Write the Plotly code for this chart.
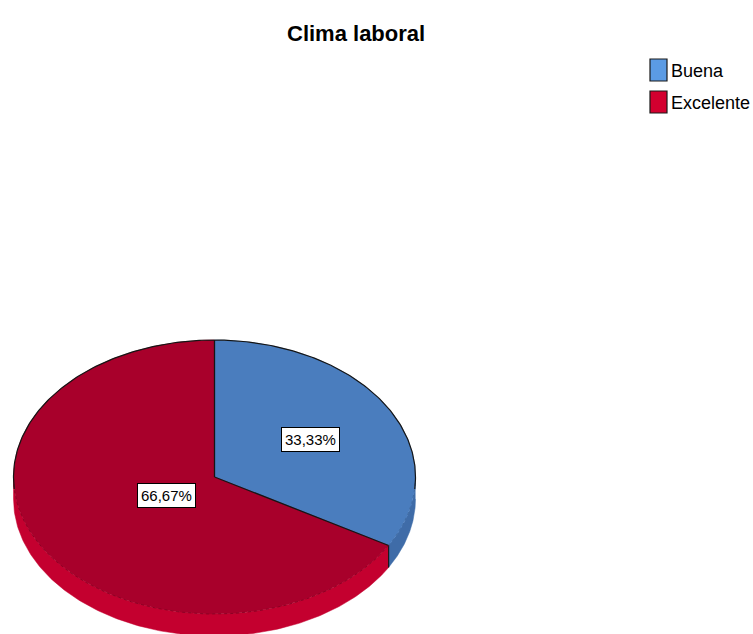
import numpy as np
import plotly.graph_objects as go

# Chart data
title_text = "Clima laboral"
categories = ["Buena", "Excelente"]
percentages = [33.33, 66.67]

# Styling
top_colors = ["#4A7DBE", "#A8002B"]
side_colors = ["#3F6CA8", "#C4002F"]
legend_colors = ["#5B9BE4", "#D3002F"]
FONT = "Liberation Sans, Arial, sans-serif"

W, H = 753, 634
cx, cy = 214.5, 477.0      # centre of the tilted pie's top face
rx, ry = 201.0, 137.0      # ellipse radii of the top face
depth = 22.0               # thickness of the pie


def pt(theta_deg, k=1.0, dy=0.0):
    """Point on the (tilted) pie top, angle measured clockwise from 12 o'clock."""
    t = np.radians(theta_deg)
    return cx + k * rx * np.sin(t), cy - k * ry * np.cos(t) + dy


def shade(hex_color, f):
    h = hex_color.lstrip("#")
    r, g, b = (int(h[i:i + 2], 16) for i in (0, 2, 4))
    return "rgb({},{},{})".format(min(255, int(r * f)), min(255, int(g * f)), min(255, int(b * f)))


total = sum(percentages)
bounds = [0.0]
for v in percentages:
    bounds.append(bounds[-1] + 360.0 * v / total)

fig = go.Figure()

# Visible side band of each slice (front half, 90..270 degrees)
for i in range(len(categories)):
    a0, a1 = max(bounds[i], 90.0), min(bounds[i + 1], 270.0)
    if a1 <= a0:
        continue
    ang = np.linspace(a0, a1, 200)
    xs_top, ys_top = pt(ang)
    xs_bot, ys_bot = pt(ang[::-1], dy=depth)
    fig.add_trace(go.Scatter(
        x=np.concatenate([xs_top, xs_bot]), y=np.concatenate([ys_top, ys_bot]),
        mode="lines", fill="toself", fillcolor=side_colors[i],
        line=dict(color=side_colors[i], width=0.5), hoverinfo="skip", showlegend=False))

# Side edge where slices meet on the front
for b in bounds[1:-1]:
    if 90.0 < b < 270.0:
        x0, y0 = pt(b)
        x1, y1 = pt(b, dy=depth)
        fig.add_trace(go.Scatter(x=[x0, x1], y=[y0, y1], mode="lines",
                                 line=dict(color="#1a1a1a", width=1.2),
                                 hoverinfo="skip", showlegend=False))

# Top faces of the slices
for i in range(len(categories)):
    ang = np.linspace(bounds[i], bounds[i + 1], 240)
    xs, ys = pt(ang)
    fig.add_trace(go.Scatter(
        x=np.concatenate([[cx], xs, [cx]]), y=np.concatenate([[cy], ys, [cy]]),
        mode="lines", fill="toself", fillcolor=top_colors[i],
        line=dict(color=top_colors[i], width=0.5), hoverinfo="skip", showlegend=False))
    # faint rim along the front edge of the top face
    fa0, fa1 = max(bounds[i], 90.0), min(bounds[i + 1], 270.0)
    if fa1 > fa0:
        fa = np.linspace(fa0, fa1, 120)
        fx, fy = pt(fa)
        fig.add_trace(go.Scatter(x=fx, y=fy, mode="lines",
                                 line=dict(color=shade(top_colors[i], 0.85), width=1, dash="dot"),
                                 hoverinfo="skip", showlegend=False))

# Dark outline on the back rim
back = np.linspace(-95.0, 95.0, 240)
bx, by = pt(back)
fig.add_trace(go.Scatter(x=bx, y=by, mode="lines", line=dict(color="#151515", width=1.2),
                         hoverinfo="skip", showlegend=False))

# Slice separators on the top face
for b in bounds[:-1]:
    x1, y1 = pt(b)
    fig.add_trace(go.Scatter(x=[cx, x1], y=[cy, y1], mode="lines",
                             line=dict(color="#151515", width=1.3),
                             hoverinfo="skip", showlegend=False))

annotations = []
shapes = []

# Percentage labels at the slice centroids
for i, v in enumerate(percentages):
    half = np.radians((bounds[i + 1] - bounds[i]) / 2.0)
    k = 2.0 * np.sin(half) / (3.0 * half)
    lx, ly = pt((bounds[i] + bounds[i + 1]) / 2.0, k)
    annotations.append(dict(
        x=lx, y=ly, xref="x", yref="y", showarrow=False,
        text=f"{v:.2f}%".replace(".", ","),
        font=dict(family=FONT, size=15, color="#000000"),
        bgcolor="#FFFFFF", bordercolor="#000000", borderwidth=1, borderpad=3))

# Title
annotations.append(dict(x=356, y=33, xref="x", yref="y", showarrow=False,
                        text=f"<b>{title_text}</b>",
                        font=dict(family=FONT, size=22, color="#000000")))

# Legend
for i, name in enumerate(categories):
    y0 = 59 + i * 32
    shapes.append(dict(type="rect", xref="x", yref="y", x0=650, x1=667, y0=y0, y1=y0 + 22,
                       fillcolor=legend_colors[i], line=dict(color="#1a1a1a", width=1.2)))
    annotations.append(dict(x=669, y=y0 + 12, xref="x", yref="y", showarrow=False,
                            xanchor="left", yanchor="middle", text=name,
                            font=dict(family=FONT, size=18, color="#000000")))

fig.update_layout(
    width=W, height=H, autosize=False,
    margin=dict(l=0, r=0, t=0, b=0),
    paper_bgcolor="#FFFFFF", plot_bgcolor="#FFFFFF",
    xaxis=dict(range=[0, W], visible=False, fixedrange=True),
    yaxis=dict(range=[H, 0], visible=False, fixedrange=True),
    annotations=annotations, shapes=shapes,
    showlegend=False, hovermode=False,
)

fig.write_html("out.html")
